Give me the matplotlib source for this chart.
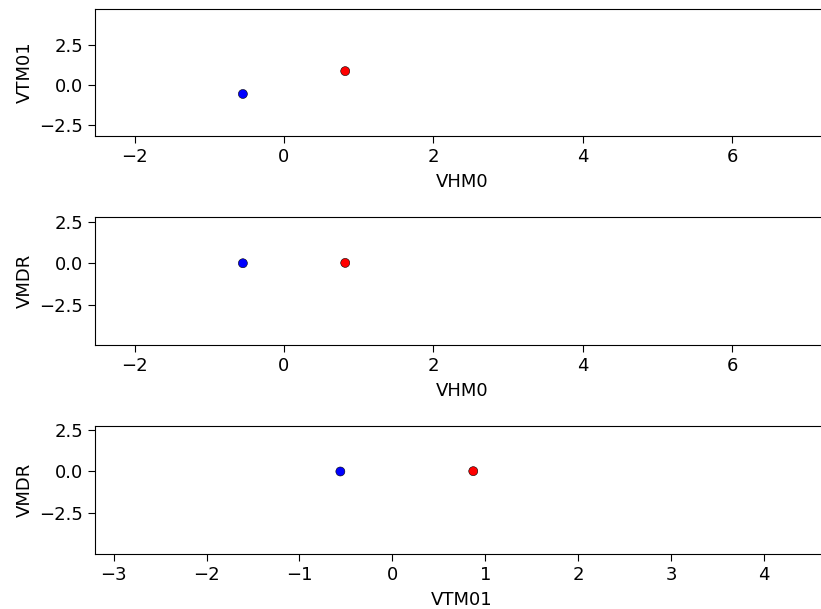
import matplotlib
matplotlib.use("Agg")
import matplotlib.pyplot as plt
from matplotlib.ticker import MultipleLocator

# cluster centroids (standardized features)
clusters = ["cluster 0", "cluster 1"]
colors = ["blue", "red"]
VHM0 = [-0.55, 0.82]
VTM01 = [-0.56, 0.87]
VMDR = [0.0, 0.02]

pairs = [
    ("VHM0", VHM0, "VTM01", VTM01, (-2.53, 7.3), (-3.19, 4.75), 2),
    ("VHM0", VHM0, "VMDR", VMDR, (-2.53, 7.3), (-4.95, 2.8), 2),
    ("VTM01", VTM01, "VMDR", VMDR, (-3.2, 4.7), (-4.97, 2.74), 1),
]

fig = plt.figure(figsize=(8.21, 6.09), dpi=100)
boxes = [(0.7767, 0.985), (0.4335, 0.6437), (0.0903, 0.3005)]
left = 95 / 821
for (xl, xv, yl, yv, xlim, ylim, xstep), (b, t) in zip(pairs, boxes):
    ax = fig.add_axes([left, b, 1.01 - left, t - b])
    ax.scatter(xv, yv, c=colors, s=42, edgecolors="black", linewidths=0.4, zorder=3)
    ax.set_xlim(*xlim)
    ax.set_ylim(*ylim)
    ax.xaxis.set_major_locator(MultipleLocator(xstep))
    ax.yaxis.set_major_locator(MultipleLocator(2.5))
    ax.set_xlabel(xl, fontsize=13, labelpad=5)
    ax.set_ylabel(yl, fontsize=13)
    ax.tick_params(labelsize=13, length=5)

fig.savefig("out.png", dpi=100)
